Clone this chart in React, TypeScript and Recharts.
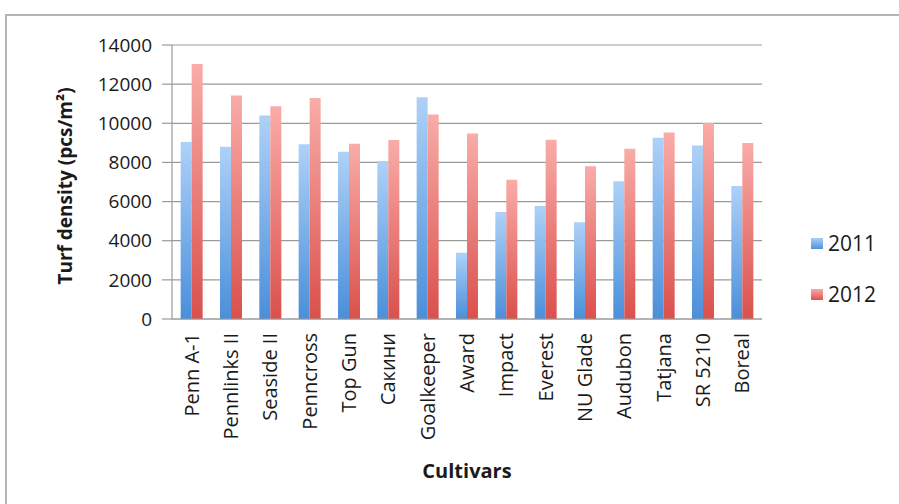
import React from 'react';
import { BarChart, Bar, XAxis, YAxis, CartesianGrid, Label } from 'recharts';

const cultivars = [
  'Penn A-1', 'Pennlinks II', 'Seaside II', 'Penncross', 'Top Gun', 'Сакини', 'Goalkeeper',
  'Award', 'Impact', 'Everest', 'NU Glade', 'Audubon', 'Tatjana', 'SR 5210', 'Boreal',
];
const values2011 = [9050, 8800, 10400, 8930, 8550, 8070, 11330, 3390, 5470, 5770, 4940, 7040, 9260, 8870, 6800];
const values2012 = [13030, 11420, 10870, 11290, 8950, 9140, 10450, 9480, 7120, 9160, 7800, 8700, 9530, 10020, 8990];
const yTicks = [0, 2000, 4000, 6000, 8000, 10000, 12000, 14000];
const seriesNames = ['2011', '2012'];

const data = cultivars.map((name, i) => ({ name, y2011: values2011[i], y2012: values2012[i] }));

const FONT = '"Open Sans", "Liberation Sans", sans-serif';
const GRID = '#9a9a9a';
const SWATCHES = [
  { from: '#a9cdf6', to: '#4f93dc' },
  { from: '#f8aaa6', to: '#dc5450' },
];

// rotated category labels, reading bottom-to-top like the Excel original
const CategoryTick = (props: any) => {
  const { x, y, payload } = props;
  return (
    <g transform={`translate(${x},${y})`}>
      <text transform="rotate(-90)" x={-6} dy="0.35em" textAnchor="end" fill="#1a1a1a" fontSize={20} fontFamily={FONT}>
        {payload.value}
      </text>
    </g>
  );
};

const YTitle = (props: any) => {
  const { viewBox } = props;
  const cx = viewBox.x + 25;
  const cy = viewBox.y + viewBox.height / 2 + 4;
  return (
    <text x={cx} y={cy} transform={`rotate(-90, ${cx}, ${cy})`} textAnchor="middle" dy="0.35em"
      fontSize={19} fontWeight="bold" fill="#1a1a1a" fontFamily={FONT}>
      Turf density (pcs/m²)
    </text>
  );
};

const LegendBox = () => (
  <div style={{ position: 'absolute', left: 811, top: 228, fontFamily: FONT, fontSize: 21, color: '#1a1a1a' }}>
    {seriesNames.map((label, i) => (
      <div key={label} style={{ display: 'flex', alignItems: 'center', height: 30, marginBottom: i === 0 ? 21 : 0 }}>
        <span style={{ width: 12, height: 11, marginRight: 5, background: `linear-gradient(${SWATCHES[i].from}, ${SWATCHES[i].to})` }} />
        <span>{label}</span>
      </div>
    ))}
  </div>
);

export default function App() {
  return (
    <div style={{ position: 'absolute', left: 0, top: 0, width: 899, height: 504, overflow: 'hidden', background: '#fff' }}>
      <div style={{ position: 'absolute', left: 5, top: 14, width: 1000, height: 600, border: '2px solid #b5b5b5', boxSizing: 'border-box' }} />
      <div style={{ position: 'absolute', left: 0, top: 0 }}>
        <BarChart width={899} height={504} data={data} barGap={0} barCategoryGap="22%"
          margin={{ top: 45, right: 137, bottom: 0, left: 40 }}>
          <defs>
            <linearGradient id="blueFill" x1="0" y1="0" x2="0" y2="1">
              <stop offset="0%" stopColor="#aed1f8" />
              <stop offset="100%" stopColor="#4a8fda" />
            </linearGradient>
            <linearGradient id="redFill" x1="0" y1="0" x2="0" y2="1">
              <stop offset="0%" stopColor="#f9aca8" />
              <stop offset="100%" stopColor="#da504c" />
            </linearGradient>
          </defs>
          <CartesianGrid vertical={false} stroke={GRID} strokeWidth={1.2} />
          <XAxis dataKey="name" interval={0} height={185} tick={<CategoryTick />} tickLine={false}
            axisLine={{ stroke: GRID, strokeWidth: 1.2 }}>
            <Label value="Cultivars" position="insideBottom" offset={26} fontSize={20} fontWeight="bold"
              fill="#1a1a1a" fontFamily={FONT} />
          </XAxis>
          <YAxis domain={[0, 14000]} ticks={yTicks} width={132} tickSize={10} tickMargin={10}
            axisLine={{ stroke: GRID, strokeWidth: 1.2 }} tickLine={{ stroke: GRID, strokeWidth: 1.2 }}
            tick={{ fill: '#1a1a1a', fontSize: 19, fontFamily: FONT }}>
            <Label content={<YTitle />} />
          </YAxis>
          <Bar dataKey="y2011" name={seriesNames[0]} fill="url(#blueFill)" isAnimationActive={false} />
          <Bar dataKey="y2012" name={seriesNames[1]} fill="url(#redFill)" isAnimationActive={false} />
        </BarChart>
      </div>
      <LegendBox />
    </div>
  );
}
